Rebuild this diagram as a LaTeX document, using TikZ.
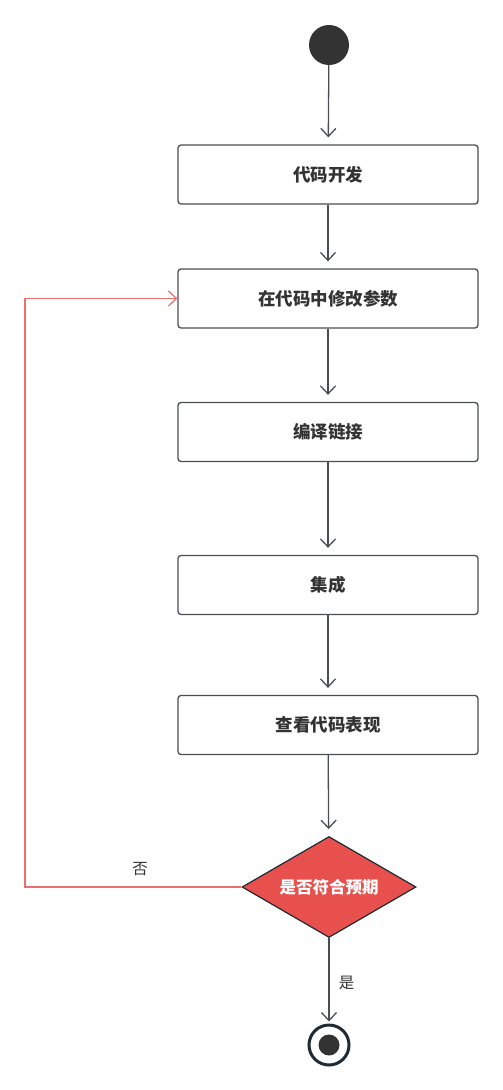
\documentclass[tikz,border=0pt]{standalone}
\usepackage{fontspec}
\setmainfont{Noto Sans CJK SC}
\usetikzlibrary{arrows.meta,shapes.geometric}
\definecolor{boxline}{HTML}{4A4D52}
\definecolor{txt}{HTML}{333333}
\definecolor{redfill}{HTML}{E8504E}
\definecolor{redline}{HTML}{EC6F6F}
\definecolor{endring}{HTML}{1F2A35}
\tikzset{
  stepbox/.style={draw=boxline, line width=1.3pt, rounded corners=3pt, minimum width=300pt, minimum height=59pt, inner sep=0pt, font=\fontsize{17.5}{19}\selectfont\bfseries, text=txt},
  flow/.style={draw=boxline, line width=1.3pt, -{Straight Barb[length=8pt,width=15pt,line width=1.3pt]}, shorten >=7pt},
  loop/.style={draw=redline, line width=1.3pt, -{Straight Barb[length=8pt,width=15pt,line width=1.3pt]}},
  lbl/.style={font=\fontsize{15.5}{17}\selectfont, text=txt}
}
\begin{document}
\begin{tikzpicture}[x=1pt,y=-1pt]
\useasboundingbox (0,0) rectangle (503,1090);
\node[circle, fill=txt, minimum size=40pt, inner sep=0pt] (start) at (329,45) {};
\node[stepbox] (s1) at (328,174.5) {代码开发};
\node[stepbox] (s2) at (328,298.5) {在代码中修改参数};
\node[stepbox] (s3) at (328,432) {编译链接};
\node[stepbox] (s4) at (328,585) {集成};
\node[stepbox] (s5) at (328,725) {查看代码表现};
\node[diamond, aspect=1.74, draw=endring, line width=1.2pt, fill=redfill, minimum width=174pt, minimum height=101pt, inner sep=0pt, text=white, font=\fontsize{16.5}{18}\selectfont\bfseries] (dec) at (329,887) {是否符合预期};
\node[circle, draw=endring, line width=3pt, fill=white, minimum size=40pt, inner sep=0pt] (end) at (329,1045) {};
\node[circle, fill=txt, minimum size=21pt, inner sep=0pt] at (end) {};
\coordinate (lb) at (25,887);
\coordinate (lt) at (25,298.5);
\draw[flow] (start) -- (s1);
\draw[flow] (s1) -- (s2);
\draw[flow] (s2) -- (s3);
\draw[flow] (s3) -- (s4);
\draw[flow] (s4) -- (s5);
\draw[flow] (s5) -- (dec);
\draw[flow, shorten >=2pt] (dec) -- node[lbl, right=6pt, pos=0.53] {是} (end);
\draw[loop] (dec.west) -- (lb) -- (lt) -- (s2.west);
\node[lbl] at (140,869) {否};
\end{tikzpicture}
\end{document}
